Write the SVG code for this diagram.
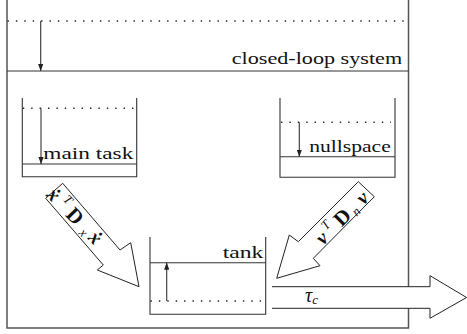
<svg xmlns="http://www.w3.org/2000/svg" width="467" height="334" viewBox="0 0 467 334">
<defs>
<marker id="ah" viewBox="0 0 8 6" refX="8" refY="3" markerWidth="7" markerHeight="5.5" markerUnits="userSpaceOnUse" orient="auto">
<path d="M0,0 L8,3 L0,6 z" fill="#222"/>
</marker>
</defs>
<style>
.ln{stroke:#333;stroke-width:1.1;fill:none}
.box{stroke:#555;stroke-width:1.5;fill:none}
.dot{stroke:#222;stroke-width:1.4;fill:none;stroke-dasharray:1.4 7}
.ar{stroke:#333;stroke-width:1.1;fill:none;marker-end:url(#ah)}
.big{stroke:#222;stroke-width:1;fill:#fff}
</style>
<g id="system">
<path class="box" d="M7,0 V328 H408.5 V0"/>
<line class="ln" x1="7" y1="71" x2="408.5" y2="71"/>
<line class="dot" x1="7.5" y1="21" x2="405" y2="21"/>
<line class="ar" x1="40.7" y1="21" x2="40.7" y2="71"/>
<text font-family="'Liberation Serif', 'DejaVu Serif', serif" font-size="16" fill="#111" x="231.7" y="64" textLength="170.5" lengthAdjust="spacingAndGlyphs">closed-loop system</text>
</g>
<g id="main-task">
<path class="ln" d="M22.3,98 V176.7 H136.7 V98"/>
<line class="ln" x1="22.3" y1="164" x2="136.7" y2="164"/>
<line class="dot" x1="22.8" y1="108.3" x2="134" y2="108.3"/>
<line class="ar" x1="41" y1="108.3" x2="41" y2="164"/>
<text font-family="'Liberation Serif', 'DejaVu Serif', serif" font-size="16" fill="#111" x="43.3" y="159" textLength="90" lengthAdjust="spacingAndGlyphs">main task</text>
</g>
<g id="nullspace">
<path class="ln" d="M280,98 V177.3 H395 V98"/>
<line class="ln" x1="280" y1="156.7" x2="395" y2="156.7"/>
<line class="dot" x1="281" y1="122.3" x2="391" y2="122.3"/>
<line class="ar" x1="299.3" y1="122.3" x2="299.3" y2="156.7"/>
<text font-family="'Liberation Serif', 'DejaVu Serif', serif" font-size="16" fill="#111" x="309.3" y="152.3" textLength="81.4" lengthAdjust="spacingAndGlyphs">nullspace</text>
</g>
<g id="tank">
<path class="ln" d="M150,237 V314.3 H265.7 V237"/>
<line class="ln" x1="150" y1="262.7" x2="265.7" y2="262.7"/>
<line class="dot" x1="150.5" y1="301" x2="261" y2="301"/>
<line class="ar" x1="166.7" y1="301" x2="166.7" y2="262.7"/>
<text font-family="'Liberation Serif', 'DejaVu Serif', serif" font-size="16" fill="#111" x="222.7" y="257.7" textLength="40.7" lengthAdjust="spacingAndGlyphs">tank</text>
</g>
<g id="connectors">
<g id="flow-main">
<polygon class="big" points="62.7,183.3 120,250 130.7,242.7 139,286.7 97.3,270 103.3,265 45.7,198.3"/>
<text font-family="'Liberation Serif', 'DejaVu Serif', serif" fill="#111" transform="translate(49,199) rotate(46)" text-anchor="middle"><tspan font-weight="bold" font-style="italic" font-size="20" x="0" y="0">ẋ</tspan><tspan font-style="italic" font-size="13" x="13.6" y="-9">T</tspan><tspan font-weight="bold" font-size="21" x="30.4" y="0">D</tspan><tspan font-style="italic" font-size="13" x="48" y="3">x</tspan><tspan font-weight="bold" font-style="italic" font-size="20" x="60" y="0">ẋ</tspan></text>
</g>
<g id="flow-null">
<polygon class="big" points="358.3,181.7 298.3,241.7 289.3,235 276.7,278.3 320,265.7 313.3,258.3 374.3,196.7"/>
<text font-family="'Liberation Serif', 'DejaVu Serif', serif" fill="#111" transform="translate(326.5,242.7) rotate(-45)" text-anchor="middle"><tspan font-weight="bold" font-style="italic" font-size="20" x="0" y="0">v</tspan><tspan font-style="italic" font-size="13" x="12" y="-9">T</tspan><tspan font-weight="bold" font-size="21" x="29" y="0">D</tspan><tspan font-style="italic" font-size="13" x="43" y="3">n</tspan><tspan font-weight="bold" font-style="italic" font-size="20" x="57" y="0">v</tspan></text>
</g>
<g id="flow-out">
<path class="big" d="M272,286.7 H430 V275.7 L466.6,297.5 L430,318.3 V308.3 H272"/>
<text font-family="'Liberation Serif', 'DejaVu Serif', serif" fill="#111" x="305" y="301.7"><tspan font-style="italic" font-size="20">τ</tspan><tspan font-style="italic" font-size="13" dy="2.3">c</tspan></text>
</g>
</g>
</svg>
